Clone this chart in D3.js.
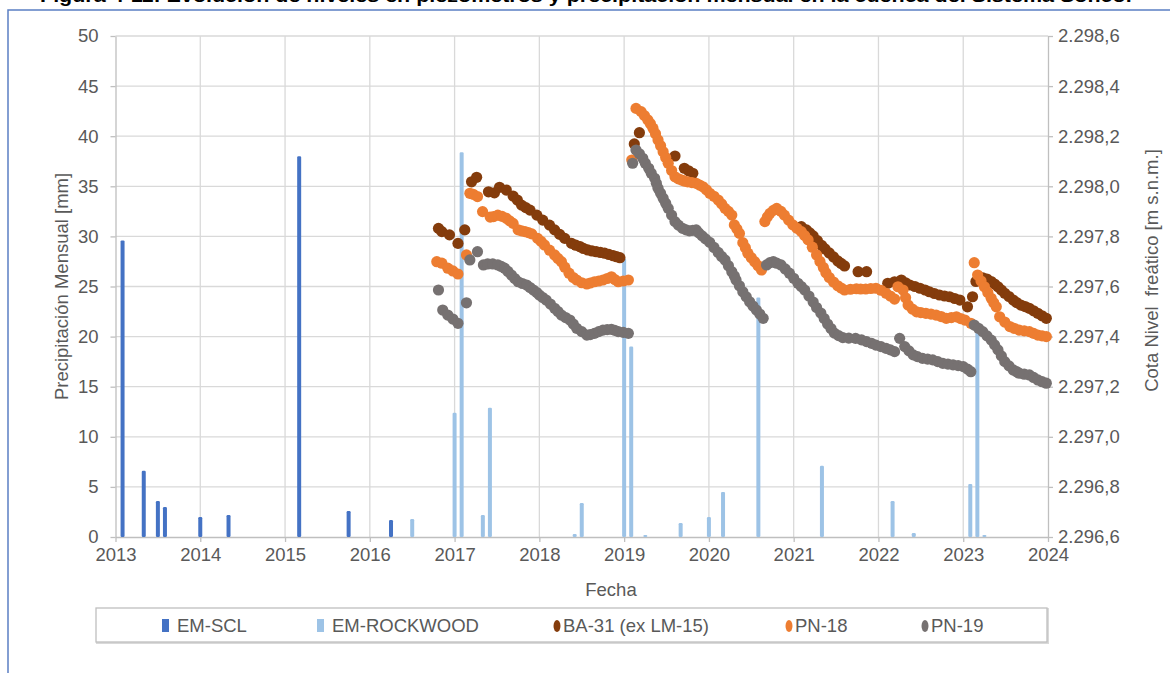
<!DOCTYPE html>
<html><head><meta charset="utf-8">
<script src="https://cdn.jsdelivr.net/npm/d3@7"></script>
<style>body{margin:0;background:#fff;} svg{display:block;font-family:"Liberation Sans",Arial,sans-serif;}</style>
</head><body><svg id="c" width="1170" height="673"></svg>
<script>
// ---------- DATA ----------
const titleText = "Figura 4-11: Evolución de niveles en piezómetros y precipitación mensual en la cuenca del Sistema Soncor";
const yearTicks = [2013,2014,2015,2016,2017,2018,2019,2020,2021,2022,2023,2024];
const precipTicks = [0,5,10,15,20,25,30,35,40,45,50];
const levelTicks = [2296.6,2296.8,2297.0,2297.2,2297.4,2297.6,2297.8,2298.0,2298.2,2298.4,2298.6];

const emSclMonths = ["2013-02","2013-05","2013-07","2013-08","2014-01","2014-05","2015-03","2015-10","2016-04"];
const emSclValues = [29.6, 6.6, 3.6, 3.0, 2.0, 2.2, 38.0, 2.6, 1.7];

const rockwoodMonths = ["2016-07","2017-01","2017-02","2017-05","2017-06","2018-06","2018-07","2019-01","2019-02","2019-04","2019-09","2020-01","2020-03","2020-08","2021-05","2022-03","2022-06","2023-02","2023-03","2023-04"];
const rockwoodValues = [1.8, 12.4, 38.4, 2.2, 12.9, 0.3, 3.4, 27.8, 19.0, 0.2, 1.4, 2.0, 4.5, 23.9, 7.1, 3.6, 0.4, 5.3, 21.0, 0.2];

// [decimal year, level m s.n.m.]
const ba31 = [[2016.81,2297.832],[2016.85,2297.819],[2016.94,2297.806],[2017.04,2297.772],[2017.12,2297.826],[2017.20,2298.018],[2017.26,2298.036],[2017.40,2297.978],[2017.47,2297.974],[2017.53,2297.996],[2017.61,2297.985],[2017.69,2297.961],[2017.74,2297.945],[2017.79,2297.925],[2017.84,2297.915],[2017.89,2297.905],[2017.97,2297.885],[2018.04,2297.865],[2018.12,2297.845],[2018.18,2297.826],[2018.24,2297.808],[2018.30,2297.792],[2018.38,2297.772],[2018.43,2297.765],[2018.48,2297.759],[2018.52,2297.752],[2018.57,2297.746],[2018.62,2297.742],[2018.67,2297.739],[2018.72,2297.736],[2018.77,2297.733],[2018.82,2297.728],[2018.87,2297.723],[2018.91,2297.719],[2018.95,2297.715],[2019.12,2298.169],[2019.18,2298.214],[2019.60,2298.121],[2019.71,2298.072],[2019.76,2298.062],[2019.81,2298.052],[2021.09,2297.839],[2021.15,2297.826],[2021.19,2297.814],[2021.23,2297.802],[2021.28,2297.783],[2021.33,2297.764],[2021.37,2297.750],[2021.42,2297.734],[2021.47,2297.718],[2021.52,2297.702],[2021.56,2297.692],[2021.60,2297.682],[2021.76,2297.659],[2021.86,2297.659],[2022.11,2297.613],[2022.19,2297.619],[2022.27,2297.626],[2022.32,2297.615],[2022.37,2297.606],[2022.43,2297.600],[2022.49,2297.593],[2022.55,2297.586],[2022.60,2297.579],[2022.66,2297.572],[2022.72,2297.566],[2022.78,2297.562],[2022.84,2297.559],[2022.90,2297.552],[2022.96,2297.546],[2023.05,2297.519],[2023.11,2297.559],[2023.15,2297.620],[2023.23,2297.635],[2023.28,2297.630],[2023.33,2297.620],[2023.37,2297.610],[2023.41,2297.599],[2023.45,2297.586],[2023.49,2297.573],[2023.54,2297.560],[2023.59,2297.546],[2023.63,2297.536],[2023.68,2297.526],[2023.73,2297.520],[2023.78,2297.513],[2023.83,2297.503],[2023.88,2297.493],[2023.93,2297.483],[2023.98,2297.473]];

const pn18 = [[2016.79,2297.699],[2016.85,2297.693],[2016.92,2297.673],[2016.98,2297.662],[2017.04,2297.650],[2017.14,2297.726],[2017.18,2297.972],[2017.22,2297.968],[2017.27,2297.959],[2017.33,2297.899],[2017.42,2297.877],[2017.46,2297.879],[2017.51,2297.885],[2017.56,2297.880],[2017.61,2297.872],[2017.65,2297.862],[2017.69,2297.852],[2017.75,2297.826],[2017.79,2297.822],[2017.83,2297.819],[2017.87,2297.815],[2017.91,2297.810],[2017.98,2297.792],[2018.02,2297.780],[2018.06,2297.766],[2018.12,2297.745],[2018.18,2297.726],[2018.22,2297.712],[2018.26,2297.699],[2018.30,2297.677],[2018.35,2297.653],[2018.40,2297.636],[2018.44,2297.626],[2018.50,2297.615],[2018.56,2297.610],[2018.60,2297.614],[2018.65,2297.619],[2018.70,2297.622],[2018.75,2297.626],[2018.80,2297.632],[2018.85,2297.639],[2018.89,2297.628],[2018.93,2297.619],[2018.99,2297.622],[2019.05,2297.626],[2019.09,2298.105],[2019.14,2298.311],[2019.20,2298.298],[2019.24,2298.282],[2019.28,2298.265],[2019.31,2298.250],[2019.34,2298.232],[2019.37,2298.210],[2019.40,2298.185],[2019.43,2298.162],[2019.46,2298.138],[2019.49,2298.115],[2019.52,2298.092],[2019.56,2298.063],[2019.60,2298.038],[2019.64,2298.030],[2019.68,2298.025],[2019.71,2298.021],[2019.75,2298.018],[2019.80,2298.015],[2019.85,2298.012],[2019.89,2298.005],[2019.93,2297.998],[2019.97,2297.986],[2020.01,2297.972],[2020.06,2297.960],[2020.11,2297.945],[2020.15,2297.930],[2020.19,2297.912],[2020.23,2297.900],[2020.27,2297.885],[2020.30,2297.846],[2020.33,2297.830],[2020.36,2297.812],[2020.40,2297.775],[2020.43,2297.755],[2020.46,2297.733],[2020.50,2297.715],[2020.54,2297.699],[2020.58,2297.683],[2020.62,2297.666],[2020.66,2297.859],[2020.69,2297.878],[2020.72,2297.892],[2020.76,2297.904],[2020.80,2297.912],[2020.85,2297.900],[2020.89,2297.885],[2020.94,2297.865],[2020.99,2297.846],[2021.04,2297.832],[2021.09,2297.819],[2021.13,2297.803],[2021.17,2297.786],[2021.22,2297.757],[2021.27,2297.726],[2021.31,2297.700],[2021.35,2297.676],[2021.38,2297.655],[2021.42,2297.636],[2021.47,2297.618],[2021.52,2297.603],[2021.56,2297.594],[2021.60,2297.586],[2021.67,2297.589],[2021.74,2297.591],[2021.79,2297.590],[2021.85,2297.590],[2021.91,2297.592],[2021.97,2297.593],[2022.03,2297.585],[2022.09,2297.573],[2022.14,2297.562],[2022.19,2297.550],[2022.23,2297.599],[2022.29,2297.586],[2022.32,2297.555],[2022.35,2297.526],[2022.40,2297.510],[2022.45,2297.499],[2022.50,2297.496],[2022.56,2297.493],[2022.62,2297.490],[2022.68,2297.486],[2022.74,2297.480],[2022.80,2297.473],[2022.86,2297.476],[2022.92,2297.479],[2022.97,2297.472],[2023.02,2297.466],[2023.09,2297.453],[2023.13,2297.695],[2023.17,2297.646],[2023.21,2297.622],[2023.25,2297.599],[2023.29,2297.576],[2023.33,2297.553],[2023.36,2297.535],[2023.39,2297.519],[2023.43,2297.479],[2023.49,2297.458],[2023.55,2297.440],[2023.60,2297.433],[2023.66,2297.426],[2023.72,2297.423],[2023.78,2297.420],[2023.83,2297.413],[2023.88,2297.406],[2023.93,2297.403],[2023.98,2297.400]];

const pn19 = [[2016.81,2297.586],[2016.86,2297.506],[2016.92,2297.486],[2016.98,2297.470],[2017.04,2297.453],[2017.14,2297.535],[2017.18,2297.706],[2017.27,2297.739],[2017.34,2297.686],[2017.39,2297.690],[2017.45,2297.690],[2017.51,2297.686],[2017.55,2297.680],[2017.59,2297.673],[2017.63,2297.660],[2017.67,2297.646],[2017.71,2297.632],[2017.75,2297.619],[2017.80,2297.612],[2017.85,2297.606],[2017.89,2297.596],[2017.93,2297.586],[2017.97,2297.576],[2018.00,2297.566],[2018.04,2297.556],[2018.08,2297.546],[2018.13,2297.530],[2018.18,2297.513],[2018.22,2297.500],[2018.26,2297.486],[2018.31,2297.476],[2018.36,2297.466],[2018.40,2297.450],[2018.44,2297.433],[2018.50,2297.420],[2018.56,2297.406],[2018.60,2297.408],[2018.65,2297.413],[2018.70,2297.420],[2018.75,2297.426],[2018.80,2297.428],[2018.85,2297.429],[2018.89,2297.425],[2018.93,2297.420],[2018.99,2297.417],[2019.05,2297.413],[2019.10,2298.092],[2019.14,2298.145],[2019.18,2298.130],[2019.22,2298.112],[2019.25,2298.092],[2019.29,2298.072],[2019.32,2298.052],[2019.36,2298.032],[2019.38,2298.012],[2019.40,2297.992],[2019.43,2297.972],[2019.46,2297.952],[2019.49,2297.932],[2019.52,2297.912],[2019.56,2297.885],[2019.60,2297.859],[2019.64,2297.845],[2019.69,2297.832],[2019.73,2297.826],[2019.77,2297.822],[2019.81,2297.824],[2019.85,2297.826],[2019.88,2297.814],[2019.92,2297.802],[2019.96,2297.790],[2020.01,2297.776],[2020.06,2297.756],[2020.11,2297.736],[2020.15,2297.720],[2020.19,2297.706],[2020.23,2297.683],[2020.27,2297.659],[2020.30,2297.642],[2020.32,2297.626],[2020.36,2297.603],[2020.40,2297.579],[2020.44,2297.559],[2020.48,2297.539],[2020.52,2297.522],[2020.56,2297.506],[2020.60,2297.490],[2020.64,2297.473],[2020.68,2297.686],[2020.72,2297.695],[2020.76,2297.699],[2020.80,2297.693],[2020.85,2297.686],[2020.90,2297.670],[2020.95,2297.653],[2021.00,2297.633],[2021.05,2297.613],[2021.09,2297.600],[2021.13,2297.586],[2021.18,2297.562],[2021.23,2297.538],[2021.27,2297.516],[2021.32,2297.494],[2021.36,2297.472],[2021.40,2297.450],[2021.44,2297.432],[2021.48,2297.414],[2021.53,2297.404],[2021.58,2297.396],[2021.65,2297.394],[2021.73,2297.393],[2021.80,2297.387],[2021.86,2297.380],[2021.92,2297.373],[2021.97,2297.366],[2022.03,2297.360],[2022.09,2297.353],[2022.14,2297.347],[2022.19,2297.340],[2022.25,2297.393],[2022.31,2297.360],[2022.36,2297.343],[2022.41,2297.327],[2022.46,2297.320],[2022.52,2297.313],[2022.58,2297.310],[2022.64,2297.307],[2022.70,2297.300],[2022.76,2297.293],[2022.82,2297.290],[2022.88,2297.287],[2022.94,2297.284],[2023.00,2297.280],[2023.05,2297.270],[2023.09,2297.260],[2023.13,2297.446],[2023.18,2297.433],[2023.23,2297.420],[2023.28,2297.403],[2023.33,2297.386],[2023.37,2297.367],[2023.41,2297.347],[2023.45,2297.323],[2023.49,2297.300],[2023.54,2297.283],[2023.59,2297.267],[2023.63,2297.260],[2023.66,2297.254],[2023.72,2297.250],[2023.78,2297.247],[2023.83,2297.237],[2023.88,2297.227],[2023.93,2297.220],[2023.98,2297.214]];

const seriesNames = ["EM-SCL","EM-ROCKWOOD","BA-31 (ex LM-15)","PN-18","PN-19"];
const seriesColors = ["#4472C4","#9DC3E6","#843C0C","#ED7D31","#767171"];

// ---------- CHART ----------
const svg = d3.select("#c");
const L = 115.5, R = 1048, T = 36, B = 537;
const x = d3.scaleLinear().domain([2013, 2024]).range([L, R]);
const yP = d3.scaleLinear().domain([0, 50]).range([B, T]);
const yL = d3.scaleLinear().domain([2296.6, 2298.6]).range([B, T]);
const monthToYear = m => { const [yy, mm] = m.split("-").map(Number); return yy + (mm - 1) / 12; };
const es = d3.formatLocale({decimal: ",", thousands: ".", grouping: [3], currency: ["", ""]});
const fmtLevel = es.format(",.1f");
const txt = "#595959", fs = "18.5px";

// frame + clipped caption
svg.append("text").attr("x", 40).attr("y", 2).attr("font-size", "19px").attr("font-weight", "bold")
  .attr("fill", "#000").attr("textLength", 1094).attr("lengthAdjust", "spacingAndGlyphs").text(titleText);
svg.append("rect").attr("x", 8).attr("y", 10).attr("width", 1200).attr("height", 700)
  .attr("fill", "none").attr("stroke", "#5b7fc4").attr("stroke-width", 1.5);

// gridlines
svg.append("g").selectAll("line").data(precipTicks.slice(1)).join("line")
  .attr("x1", L).attr("x2", R).attr("y1", d => yP(d)).attr("y2", d => yP(d))
  .attr("stroke", "#d9d9d9").attr("stroke-width", 1.3);
svg.append("g").selectAll("line").data(yearTicks.slice(1, -1)).join("line")
  .attr("x1", d => x(d)).attr("x2", d => x(d)).attr("y1", T).attr("y2", B)
  .attr("stroke", "#d9d9d9").attr("stroke-width", 1.3);

function styleAxis(g) {
  g.select(".domain").attr("stroke", "#bfbfbf").attr("stroke-width", 1.3);
  g.selectAll(".tick line").attr("stroke", "#bfbfbf").attr("stroke-width", 1.3);
  g.selectAll(".tick text").attr("fill", txt).style("font-size", fs).style("font-family", '"Liberation Sans",Arial,sans-serif');
}
svg.append("g").attr("transform", `translate(${L},0)`)
  .call(d3.axisLeft(yP).tickValues(precipTicks).tickSize(5).tickPadding(12).tickSizeOuter(0)).call(styleAxis);
svg.append("g").attr("transform", `translate(${R},0)`)
  .call(d3.axisRight(yL).tickValues(levelTicks).tickFormat(fmtLevel).tickSize(5).tickPadding(5).tickSizeOuter(0)).call(styleAxis);
svg.append("g").attr("transform", `translate(0,${B})`)
  .call(d3.axisBottom(x).tickValues(yearTicks).tickFormat(d3.format("d")).tickSize(5).tickPadding(6).tickSizeOuter(0)).call(styleAxis);

// axis titles
svg.append("text").attr("transform", `translate(68,${(T + B) / 2}) rotate(-90)`).attr("text-anchor", "middle")
  .attr("fill", txt).attr("font-size", fs).text("Precipitación Mensual  [mm]");
svg.append("text").attr("transform", `translate(1158,${(T + B) / 2 - 16}) rotate(-90)`).attr("text-anchor", "middle")
  .attr("fill", txt).attr("font-size", fs).style("white-space", "pre").text("Cota Nivel  freático [m s.n.m.]");
svg.append("text").attr("x", 611).attr("y", 596).attr("text-anchor", "middle")
  .attr("fill", txt).attr("font-size", fs).text("Fecha");

// bars
const bw = 4;
function bars(months, values, color) {
  svg.append("g").selectAll("rect").data(months.map((m, i) => [monthToYear(m), values[i]])).join("rect")
    .attr("x", d => x(d[0]) - bw / 2).attr("width", bw)
    .attr("y", d => yP(d[1])).attr("height", d => B - yP(d[1]))
    .attr("rx", 1.2).attr("fill", color);
}
bars(emSclMonths, emSclValues, seriesColors[0]);
bars(rockwoodMonths, rockwoodValues, seriesColors[1]);

// points
function dots(data, color) {
  svg.append("g").selectAll("circle").data(data).join("circle")
    .attr("cx", d => x(d[0])).attr("cy", d => yL(d[1])).attr("r", 5.6).attr("fill", color);
}
dots(ba31, seriesColors[2]);
dots(pn18, seriesColors[3]);
dots(pn19, seriesColors[4]);

// legend
const lg = svg.append("g");
lg.append("rect").attr("x", 97).attr("y", 609).attr("width", 951).attr("height", 34).attr("fill", "none")
  .attr("stroke", "#d9d9d9").attr("stroke-width", 2);
lg.append("rect").attr("x", 96).attr("y", 608).attr("width", 951).attr("height", 34).attr("fill", "#fff")
  .attr("stroke", "#bfbfbf").attr("stroke-width", 1.3);
const legX = [162, 317, 554, 786, 922];
const legTextX = [177, 332, 563, 795, 931];
seriesNames.forEach((name, i) => {
  if (i < 2) {
    lg.append("rect").attr("x", legX[i]).attr("y", 619).attr("width", 7).attr("height", 13).attr("fill", seriesColors[i]);
  } else {
    lg.append("ellipse").attr("cx", legX[i] + 3).attr("cy", 626).attr("rx", 3.5).attr("ry", 6).attr("fill", seriesColors[i]);
  }
  lg.append("text").attr("x", legTextX[i]).attr("y", 632).attr("fill", txt).attr("font-size", fs).text(name);
});
</script></body></html>
